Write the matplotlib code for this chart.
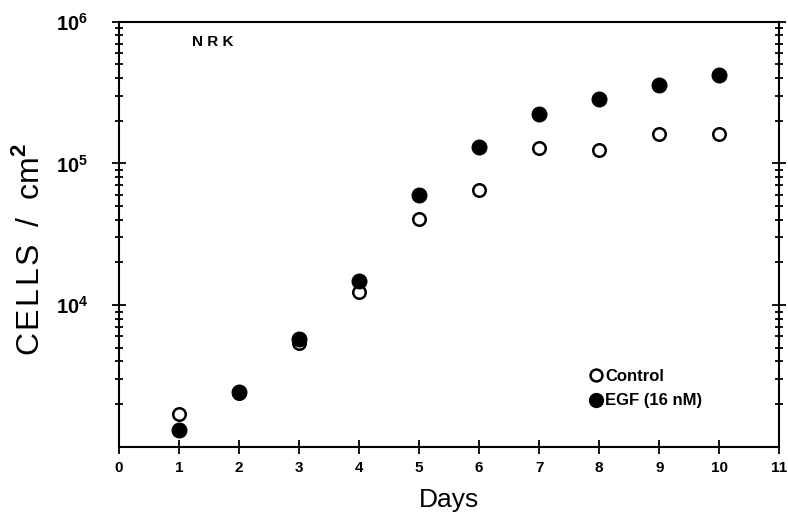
import numpy as np
import matplotlib
matplotlib.use("Agg")
import matplotlib.pyplot as plt
from matplotlib.ticker import LogLocator, NullFormatter, FixedLocator

plt.rcParams["font.family"] = ["Liberation Sans", "DejaVu Sans"]
plt.rcParams["mathtext.fontset"] = "custom"
plt.rcParams["mathtext.rm"] = "Liberation Sans"
plt.rcParams["mathtext.bf"] = "Liberation Sans:bold"

# ── Data ──────────────────────────────────────────────────────
days        = [1, 2, 3, 4, 5, 6, 7, 8, 9, 10]
control     = [1700, 2400, 5430, 12300, 40800, 64600, 128800, 124000, 160000, 162500]
egf         = [1315, 2450, 5730, 14750, 59600, 130000, 223000, 285000, 359000, 418000]
x_ticks     = list(range(0, 12))
y_decades   = [1e4, 1e5, 1e6]
y_ticklabels = [r"$\mathbf{10^{4}}$", r"$\mathbf{10^{5}}$", r"$\mathbf{10^{6}}$"]

fig = plt.figure(figsize=(7.88, 5.17), dpi=100)
ax = fig.add_axes([0.151, 0.136, 0.838, 0.822])

ax.plot(days, control, ls="none", marker="o", ms=9, mfc="white",
        mec="black", mew=1.8, label="Control", zorder=3)
ax.plot(days, egf, ls="none", marker="o", ms=10.5, mfc="black",
        mec="black", label="EGF (16 nM)", zorder=4)

ax.set_yscale("log")
ax.set_xlim(0, 11)
ax.set_ylim(1e3, 1e6)

# ── Axes and ticks ────────────────────────────────────────────
for s in ax.spines.values():
    s.set_linewidth(1.5)

ax.xaxis.set_major_locator(FixedLocator(x_ticks))
ax.set_xticklabels([str(t) for t in x_ticks], fontsize=11, fontweight="bold")
ax.yaxis.set_major_locator(FixedLocator(y_decades))
ax.set_yticklabels(y_ticklabels, fontsize=14.5)
ax.yaxis.set_minor_locator(LogLocator(base=10, subs=np.arange(2, 10), numticks=20))
ax.yaxis.set_minor_formatter(NullFormatter())

ax.tick_params(axis="x", which="major", direction="inout", length=10, width=1.3,
               top=False, bottom=True, pad=5)
ax.tick_params(axis="y", which="major", direction="inout", length=10, width=1.3,
               left=True, right=True, pad=17)
ax.tick_params(axis="y", which="minor", direction="inout", length=6, width=1.3,
               left=True, right=True)

ax.set_xlabel("Days", fontsize=19, labelpad=10)
ax.set_ylabel("C\u200aE\u200aL\u200aL\u200aS  /  cm$^{\\mathbf{2}}$", fontsize=23)
ax.yaxis.set_label_coords(-0.11, 0.464)

ax.text(0.11, 0.953, "N R K", transform=ax.transAxes, fontsize=11,
        fontweight="bold", ha="left", va="center")

leg = ax.legend(loc="upper left", bbox_to_anchor=(0.697, 0.202), frameon=False,
                handletextpad=0.05, borderpad=0, labelspacing=0.55,
                handlelength=1.0, markerscale=0.95,
                prop={"size": 12, "weight": "bold"})

fig.savefig("out.png", dpi=100)
